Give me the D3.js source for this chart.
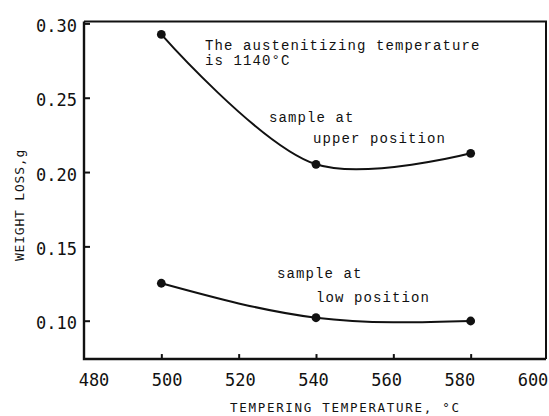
<!DOCTYPE html>
<html>
<head>
<meta charset="utf-8">
<script src="https://cdn.jsdelivr.net/npm/d3@7"></script>
<style>
body { margin: 0; background: #fff; }
text { fill: #111; }
</style>
</head>
<body>
<svg id="chart"></svg>
<script>
// data
var temps = [500, 540, 580];
var upperLoss = [0.2926, 0.2052, 0.2126];
var lowLoss = [0.1252, 0.1020, 0.0998];
var xTicks = [480, 500, 520, 540, 560, 580, 600];
var yTicks = [0.10, 0.15, 0.20, 0.25, 0.30];

var width = 549, height = 416;
var svg = d3.select('#chart').attr('width', width).attr('height', height);

var x = d3.scaleLinear().domain([480, 600]).range([84, 548]);
// the printed tick numbers sit a little off the tick marks in the original
var xLabel = d3.scaleLinear().domain([480, 600]).range([94, 533]);
var y = d3.scaleLinear().domain([0.10, 0.30]).range([320.7, 23.4]);

var plotLeft = x(480), plotRight = 546, plotTop = 21.5, plotBottom = y(0.0742);

// frame
svg.append('path')
	.attr('d', 'M' + plotLeft + ',' + plotTop + 'H' + plotRight + 'V' + plotBottom)
	.attr('fill', 'none').attr('stroke', '#111').attr('stroke-width', 2);
svg.append('path')
	.attr('d', 'M' + plotLeft + ',' + plotTop + 'V' + plotBottom + 'H' + plotRight)
	.attr('fill', 'none').attr('stroke', '#111').attr('stroke-width', 2.4);

// inward ticks
svg.append('g')
	.attr('transform', 'translate(' + plotLeft + ',0)')
	.call(d3.axisRight(y).tickValues(yTicks).tickSize(6).tickFormat(''));
svg.append('g')
	.attr('transform', 'translate(0,' + plotBottom + ')')
	.call(d3.axisTop(x).tickValues(xTicks.slice(1, 6)).tickSize(5).tickFormat(''));
svg.selectAll('.domain').remove();
svg.selectAll('.tick line').attr('stroke', '#111').attr('stroke-width', 2);

// tick labels
svg.selectAll('.ylab').data(yTicks).join('text')
	.attr('class', 'ylab')
	.attr('x', 77)
	.attr('y', function(d) { return y(d) + 2.5; })
	.attr('dy', '0.36em')
	.attr('text-anchor', 'end')
	.style('font', '17px "DejaVu Sans Mono"')
	.text(function(d) { return d3.format('.2f')(d); });

svg.selectAll('.xlab').data(xTicks).join('text')
	.attr('class', 'xlab')
	.attr('x', function(d) { return xLabel(d); })
	.attr('y', 386)
	.attr('text-anchor', 'middle')
	.style('font', '17px "DejaVu Sans Mono"')
	.text(function(d) { return d; });

// axis titles
svg.append('text')
	.attr('x', 230).attr('y', 412)
	.style('font', '12.5px "DejaVu Sans Mono"')
	.style('letter-spacing', '1.7px')
	.text('TEMPERING TEMPERATURE, °C');
svg.append('text')
	.attr('transform', 'translate(23.5,205) rotate(-90)')
	.attr('text-anchor', 'middle')
	.style('font', '13px "DejaVu Sans Mono"')
	.style('letter-spacing', '0.8px')
	.text('WEIGHT LOSS,g');

// curves
var upperLine = d3.line()
	.x(function(d, i) { return x(temps[i]); })
	.y(function(d) { return y(d); })
	.curve(d3.curveCatmullRom);
var lowLine = d3.line()
	.x(function(d, i) { return x(temps[i]); })
	.y(function(d) { return y(d); })
	.curve(d3.curveNatural);

svg.append('path').datum(upperLoss)
	.attr('d', upperLine)
	.attr('fill', 'none').attr('stroke', '#111').attr('stroke-width', 2);
svg.append('path').datum(lowLoss)
	.attr('d', lowLine)
	.attr('fill', 'none').attr('stroke', '#111').attr('stroke-width', 2);

[upperLoss, lowLoss].forEach(function(series) {
	svg.append('g').selectAll('circle').data(series).join('circle')
		.attr('cx', function(d, i) { return x(temps[i]); })
		.attr('cy', function(d) { return y(d); })
		.attr('r', 4.4)
		.attr('fill', '#111');
});

// notes
var notes = [
	{ t: 'The austenitizing temperature', x: 205, y: 50 },
	{ t: 'is 1140°C', x: 205, y: 64.5 },
	{ t: 'sample at', x: 269, y: 122 },
	{ t: 'upper position', x: 313, y: 143 },
	{ t: 'sample at', x: 277, y: 278 },
	{ t: 'low position', x: 316, y: 301.5 }
];
svg.selectAll('.note').data(notes).join('text')
	.attr('class', 'note')
	.attr('x', function(d) { return d.x; })
	.attr('y', function(d) { return d.y; })
	.style('font', '14px "Liberation Mono"')
	.style('letter-spacing', '1.1px')
	.text(function(d) { return d.t; });
</script>
</body>
</html>
